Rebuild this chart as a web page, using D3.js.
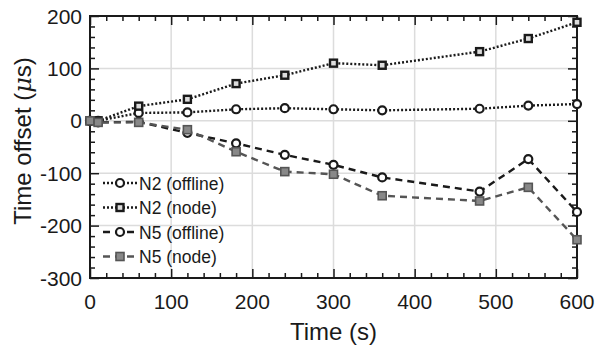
<!DOCTYPE html>
<html>
<head>
<meta charset="utf-8">
<script src="https://cdn.jsdelivr.net/npm/d3@7"></script>
<style>
	body { margin: 0; background: #fff; }
	text { font-family: "Liberation Sans", Arial, sans-serif; fill: #1a1a1a; }
</style>
</head>
<body>
<div id="chart"></div>
<script>
/* Time offset of N2 / N5, offline vs node estimate */

var times = [0, 10, 60, 120, 180, 240, 300, 360, 480, 540, 600];
var n2Offline = [0, 0, 15, 16, 22, 24, 22, 20, 23, 29, 32];
var n2Node = [0, 0, 28, 41, 71, 87, 110, 106, 132, 157, 188];
var n5Offline = [0, -3, -2, -23, -43, -65, -84, -108, -135, -73, -174];
var n5Node = [0, -3, -3, -17, -59, -97, -102, -143, -153, -127, -227];
var xTicks = [0, 100, 200, 300, 400, 500, 600];
var yTicks = [-300, -200, -100, 0, 100, 200];

var series = [
	{ label: "N2 (offline)", values: n2Offline, dash: "2,2", color: "#1a1a1a", marker: "circle" },
	{ label: "N2 (node)", values: n2Node, dash: "2,2", color: "#1a1a1a", marker: "square" },
	{ label: "N5 (offline)", values: n5Offline, dash: "7,5", color: "#1a1a1a", marker: "circle" },
	{ label: "N5 (node)", values: n5Node, dash: "7,5", color: "#555", marker: "square" }
];

var width = 595,
	height = 349,
	margin = { top: 16, right: 18, bottom: 71, left: 90 };

var svg = d3.select("#chart").append("svg")
	.attr("width", width)
	.attr("height", height);

var x = d3.scaleLinear().domain([0, 600]).range([margin.left, width - margin.right]);
var y = d3.scaleLinear().domain([-300, 200]).range([height - margin.bottom, margin.top]);

/* grid */
var grid = svg.append("g").attr("stroke", "#dcdcdc").attr("stroke-width", 1.5);
grid.selectAll("line.gx").data(xTicks.slice(1, -1)).enter().append("line")
	.attr("x1", d => x(d)).attr("x2", d => x(d))
	.attr("y1", y(-300)).attr("y2", y(200));
grid.selectAll("line.gy").data(yTicks.slice(1, -1)).enter().append("line")
	.attr("y1", d => y(d)).attr("y2", d => y(d))
	.attr("x1", x(0)).attr("x2", x(600));

/* inward ticks on all sides */
function ticks(axisFn, scale, major, minor, tr) {
	[[minor, 5], [major, 9]].forEach(function(t) {
		var g = svg.append("g").attr("transform", tr);
		g.call(axisFn(scale).tickValues(t[0]).tickSize(-t[1]).tickFormat(""));
		g.selectAll(".domain").remove();
		g.selectAll("line").attr("stroke", "#1a1a1a").attr("stroke-width", 1.5);
	});
}
var xMinor = d3.range(0, 601, 20).filter(d => d % 100);
var yMinor = d3.range(-300, 201, 20).filter(d => d % 100);
ticks(d3.axisBottom, x, xTicks, xMinor, "translate(0," + y(-300) + ")");
ticks(d3.axisTop, x, xTicks, xMinor, "translate(0," + y(200) + ")");
ticks(d3.axisLeft, y, yTicks, yMinor, "translate(" + x(0) + ",0)");
ticks(d3.axisRight, y, yTicks, yMinor, "translate(" + x(600) + ",0)");

/* frame */
svg.append("rect")
	.attr("x", x(0)).attr("y", y(200))
	.attr("width", x(600) - x(0)).attr("height", y(-300) - y(200))
	.attr("fill", "none").attr("stroke", "#1a1a1a").attr("stroke-width", 2);

/* tick labels */
svg.append("g").selectAll("text").data(xTicks).enter().append("text")
	.attr("x", d => x(d)).attr("y", y(-300) + 31)
	.attr("text-anchor", "middle").style("font-size", "21px")
	.text(d => d);
svg.append("g").selectAll("text").data(yTicks).enter().append("text")
	.attr("x", x(0) - 8).attr("y", d => y(d) + 7.5)
	.attr("text-anchor", "end").style("font-size", "21px")
	.text(d => d);

/* axis titles */
svg.append("text")
	.attr("x", (x(0) + x(600)) / 2).attr("y", height - 9)
	.attr("text-anchor", "middle").style("font-size", "24px")
	.text("Time (s)");
var yt = svg.append("text")
	.attr("transform", "translate(31," + ((y(-300) + y(200)) / 2 - 6) + ") rotate(-90)")
	.attr("text-anchor", "middle").style("font-size", "24px");
yt.append("tspan").text("Time offset (");
yt.append("tspan").style("font-style", "italic").style("font-family", "'DejaVu Serif', serif").text("μ");
yt.append("tspan").text("s)");

/* series */
var line = d3.line().x((d, i) => x(times[i])).y(d => y(d));

function drawMarker(g, type, color, cx, cy) {
	if (type === "circle") {
		g.append("circle").attr("cx", cx).attr("cy", cy).attr("r", 4)
			.attr("fill", "#fff").attr("stroke", color).attr("stroke-width", 2.2);
	} else if (color === "#555") {
		g.append("rect").attr("x", cx - 4).attr("y", cy - 4).attr("width", 8).attr("height", 8)
			.attr("fill", "#888").attr("stroke", color).attr("stroke-width", 1.6);
	} else {
		g.append("rect").attr("x", cx - 3.5).attr("y", cy - 3.5).attr("width", 7).attr("height", 7)
			.attr("fill", "#ddd").attr("stroke", color).attr("stroke-width", 2.4);
	}
}

series.forEach(function(s) {
	var g = svg.append("g");
	g.append("path").datum(s.values)
		.attr("d", line)
		.attr("fill", "none")
		.attr("stroke", s.color)
		.attr("stroke-width", 2.4)
		.attr("stroke-dasharray", s.dash);
	s.values.forEach(function(v, i) {
		drawMarker(g, s.marker, s.color, x(times[i]), y(v));
	});
});

/* legend */
var legend = svg.append("g");
series.forEach(function(s, i) {
	var ly = 183 + i * 24.5;
	var g = legend.append("g");
	g.append("line").attr("x1", 103).attr("x2", 137).attr("y1", ly).attr("y2", ly)
		.attr("stroke", s.color).attr("stroke-width", 2.4).attr("stroke-dasharray", s.dash);
	drawMarker(g, s.marker, s.color, 120, ly);
	g.append("text").attr("x", 139).attr("y", ly + 6.5)
		.style("font-size", "17.5px").text(s.label);
});
</script>
</body>
</html>
